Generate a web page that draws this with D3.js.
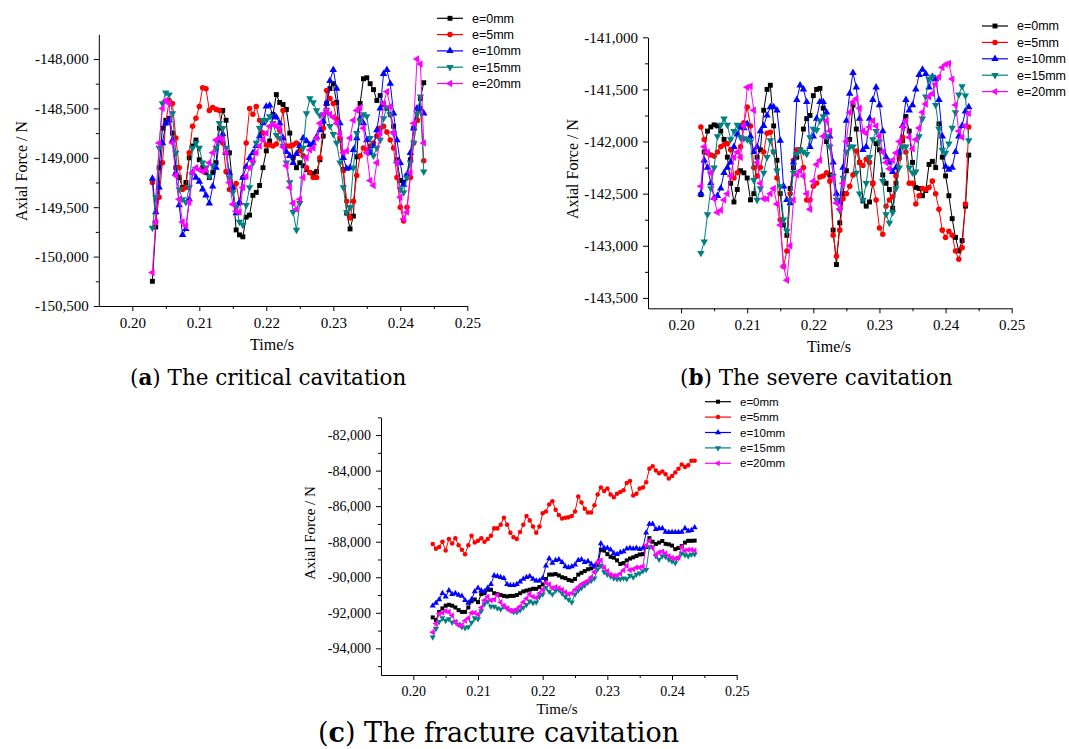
<!DOCTYPE html>
<html>
<head>
<meta charset="utf-8">
<script src="https://cdn.jsdelivr.net/npm/d3@7"></script>
<style>
  body { margin: 0; background: #fff; }
  svg { display: block; }
</style>
</head>
<body>
<svg id="chart" width="1069" height="749"></svg>
<script>
// === Axial force vs time, three cavitation cases ===

// sample times (s), shared by every series
const TIME = [0.2030,0.2035,0.2040,0.2045,0.2050,0.2055,0.2060,0.2065,0.2070,0.2075,
  0.2080,0.2085,0.2090,0.2095,0.2100,0.2105,0.2110,0.2115,0.2120,0.2125,
  0.2130,0.2135,0.2140,0.2145,0.2150,0.2155,0.2160,0.2165,0.2170,0.2175,
  0.2180,0.2185,0.2190,0.2195,0.2200,0.2205,0.2210,0.2215,0.2220,0.2225,
  0.2230,0.2235,0.2240,0.2245,0.2250,0.2255,0.2260,0.2265,0.2270,0.2275,
  0.2280,0.2285,0.2290,0.2295,0.2300,0.2305,0.2310,0.2315,0.2320,0.2325,
  0.2330,0.2335,0.2340,0.2345,0.2350,0.2355,0.2360,0.2365,0.2370,0.2375,
  0.2380,0.2385,0.2390,0.2395,0.2400,0.2405,0.2410,0.2415,0.2420,0.2425,
  0.2430,0.2435];

const SERIES_NAMES = ["e=0mm", "e=5mm", "e=10mm", "e=15mm", "e=20mm"];

// (a) critical cavitation, axial force in N
const A_E0 = [-150250,-149700,-149100,-148700,-148620,-148600,-148750,-149100,-149200,-149300,
  -149250,-149000,-148880,-148820,-149020,-149100,-149150,-149200,-149150,-149050,
  -148700,-148520,-148620,-148950,-149300,-149730,-149780,-149800,-149600,-149580,
  -149380,-149350,-149280,-149100,-148930,-148830,-148560,-148360,-148440,-148460,
  -148510,-148750,-149000,-149100,-149050,-149080,-149120,-149150,-149160,-149140,
  -149020,-148780,-148450,-148300,-148250,-148440,-148820,-149120,-149560,-149720,
  -149590,-148990,-148450,-148200,-148190,-148250,-148310,-148420,-148370,-148460,
  -148500,-148560,-148680,-149020,-149230,-149250,-149180,-149020,-148700,-148620,
  -148400,-148240];
const A_E5 = [-149250,-149650,-149400,-149050,-148650,-148420,-148450,-148800,-149100,-149320,
  -149300,-148950,-148680,-148600,-148480,-148290,-148300,-148520,-148490,-148510,
  -148520,-148850,-149140,-149320,-149300,-149260,-149460,-149200,-148850,-148500,
  -148560,-148480,-148620,-148750,-148870,-148870,-148880,-148860,-148720,-148520,
  -148880,-148880,-148870,-148850,-148930,-148980,-149100,-149150,-149200,-149200,
  -149000,-148700,-148320,-148400,-148450,-148610,-148800,-149130,-149440,-149610,
  -149440,-149180,-148980,-148900,-148920,-148880,-148850,-148780,-148700,-148680,
  -148740,-148820,-148900,-149200,-149500,-149640,-149500,-149200,-148850,-148620,
  -148500,-149030];
const A_E10 = [-149210,-149550,-149300,-148850,-148650,-148620,-148820,-149150,-149480,-149780,
  -149720,-149420,-149150,-149200,-149240,-149320,-149380,-149460,-149290,-149100,
  -148820,-148760,-148950,-149150,-149300,-149560,-149450,-149200,-149090,-149000,
  -148950,-148880,-148780,-148650,-148480,-148470,-148580,-148590,-148650,-148800,
  -148940,-148980,-149050,-148960,-148880,-148800,-148830,-148870,-148850,-148790,
  -148720,-148630,-148450,-148220,-148110,-148300,-148650,-149000,-149110,-149100,
  -148920,-148800,-148600,-148650,-148820,-148950,-148880,-148720,-148500,-148150,
  -148110,-148250,-148550,-148820,-149050,-149270,-149170,-148950,-148700,-148500,
  -148500,-148550];
const A_E15 = [-149710,-149400,-148900,-148450,-148340,-148360,-148550,-148950,-149320,-149420,
  -149450,-149300,-148900,-148850,-148900,-149050,-149100,-149190,-149080,-148900,
  -148650,-148700,-148900,-149200,-149350,-149500,-149650,-149680,-149480,-149300,
  -149050,-148850,-148700,-148620,-148620,-148580,-148650,-148770,-148800,-148880,
  -149050,-149250,-149550,-149730,-149460,-148900,-148550,-148400,-148440,-148520,
  -148570,-148560,-148520,-148680,-148760,-148850,-149050,-149300,-149550,-149500,
  -149100,-148750,-148620,-148560,-148580,-148800,-148980,-148900,-148820,-148600,
  -148490,-148560,-148750,-149050,-149320,-149350,-149200,-149050,-148850,-148550,
  -148380,-149140];
const A_E20 = [-150160,-149650,-148850,-148500,-148420,-148450,-148850,-149180,-149420,-149650,
  -149690,-149450,-149150,-149100,-149120,-149140,-149120,-149050,-148950,-148820,
  -148800,-148820,-148950,-149250,-149470,-149540,-149550,-149300,-149190,-149100,
  -149030,-148950,-148880,-148820,-148750,-148680,-148660,-148680,-148700,-148890,
  -149080,-149300,-149460,-149520,-149420,-149200,-149000,-148920,-148900,-148800,
  -148650,-148560,-148520,-148560,-148590,-148650,-148760,-148950,-148930,-148800,
  -148620,-148520,-148490,-148700,-148950,-149230,-149280,-149050,-148750,-148450,
  -148330,-148480,-148750,-149050,-149400,-149620,-149550,-149150,-148650,-148000,
  -148050,-148850];

// (b) severe cavitation
const B_E0 = [-142510,-142100,-141900,-141860,-141840,-141850,-141900,-141980,-142150,-142400,
  -142580,-142460,-142280,-142300,-142350,-142560,-142500,-142150,-142080,-141700,
  -141500,-141460,-141850,-142180,-142500,-142800,-142900,-142450,-142250,-142150,
  -142080,-141880,-141780,-141750,-141560,-141500,-141490,-141680,-142000,-142320,
  -142850,-143180,-142780,-142500,-142280,-141980,-141650,-141880,-142200,-142570,
  -142620,-142580,-142400,-142020,-142080,-142320,-142400,-142460,-142640,-142400,
  -142130,-141990,-141760,-141900,-142200,-142440,-142450,-142520,-142470,-142220,
  -142190,-142250,-141830,-142150,-142330,-142520,-142740,-142920,-143050,-142950,
  -142620,-142130];
const B_E5 = [-141860,-141980,-142110,-142130,-142140,-142100,-142050,-142030,-142020,-142080,
  -142350,-142300,-142050,-141820,-141670,-141850,-142250,-142330,-142250,-142100,
  -141920,-141910,-142100,-142350,-142750,-143200,-143050,-142500,-142180,-142080,
  -142080,-142250,-142560,-142560,-142430,-142400,-142340,-142330,-142300,-142380,
  -142900,-143100,-142850,-142550,-142500,-142430,-142320,-142090,-142200,-142230,
  -142170,-142200,-142400,-142560,-142830,-142890,-142620,-142560,-142530,-142330,
  -142160,-141960,-142100,-142400,-142400,-142600,-142520,-142450,-142460,-142440,
  -142380,-142500,-142650,-142850,-142920,-142860,-142900,-143050,-143130,-143020,
  -142600,-141860];
const B_E10 = [-142500,-142180,-142250,-142400,-142540,-142520,-142450,-142300,-142250,-142200,
  -142050,-141930,-141860,-141870,-141830,-141950,-142100,-142050,-141900,-141850,
  -141750,-141670,-141670,-141700,-141990,-142430,-142560,-142590,-142200,-141600,
  -141460,-141500,-141620,-142050,-141950,-141780,-141620,-141620,-141720,-141950,
  -142200,-142500,-142580,-142250,-141800,-141540,-141340,-141480,-141780,-142080,
  -142050,-141780,-141600,-141480,-141650,-141900,-142150,-142200,-142290,-142250,
  -142100,-141850,-141600,-141700,-141650,-141500,-141360,-141310,-141350,-141480,
  -141380,-141400,-141600,-141950,-142240,-142270,-142250,-142100,-141950,-141850,
  -141710,-141670];
const B_E15 = [-143070,-142960,-142700,-142450,-142250,-141950,-141840,-141780,-141840,-141980,
  -141900,-141840,-141960,-141970,-141980,-142000,-142370,-142560,-142450,-142300,
  -142150,-141990,-142100,-142280,-142430,-142750,-142860,-142560,-142300,-142120,
  -142080,-142100,-142120,-141960,-141880,-141890,-141800,-141760,-141950,-142050,
  -142330,-142560,-142660,-142350,-142100,-142050,-142050,-142300,-142500,-142560,
  -142400,-142150,-141980,-141900,-142000,-142380,-142700,-142780,-142680,-142450,
  -142250,-142050,-142050,-142250,-142300,-142290,-141950,-141780,-141570,-141400,
  -141380,-141650,-141880,-142080,-142110,-142020,-141870,-141720,-141550,-141470,
  -141560,-141990];
const B_E20 = [-142430,-142050,-142100,-142300,-142550,-142680,-142660,-142560,-142500,-142330,
  -142150,-142100,-142150,-141850,-141480,-141470,-141700,-142200,-142400,-142550,
  -142550,-142500,-142450,-142600,-142800,-143200,-143330,-143000,-142560,-142320,
  -142280,-142330,-142500,-142650,-142380,-142220,-142180,-141950,-141800,-141900,
  -142350,-142590,-142650,-142400,-142000,-141720,-141620,-141590,-141680,-141900,
  -141920,-141860,-141800,-141850,-141950,-142100,-142200,-142260,-142180,-142110,
  -142000,-141860,-141800,-141960,-142070,-141980,-141870,-141720,-141640,-141570,
  -141540,-141450,-141380,-141290,-141260,-141250,-141400,-141650,-141900,-141960,
  -141850,-141730];

// (c) fracture cavitation
const C_E0 = [-92260,-92400,-91950,-91750,-91600,-91550,-91600,-91700,-91850,-91950,
  -91950,-91700,-91350,-91250,-91400,-90950,-90900,-90700,-90700,-90900,
  -90950,-91000,-91050,-91080,-91050,-91050,-91000,-90900,-90800,-90750,
  -90700,-90650,-90650,-90550,-90400,-90100,-89850,-89850,-89820,-89900,
  -90000,-90050,-90150,-90200,-90100,-89850,-89750,-89650,-89550,-89500,
  -89400,-89300,-88450,-88500,-88700,-88850,-88900,-89050,-89250,-89200,
  -89050,-88950,-88880,-88800,-88720,-88700,-88300,-87800,-88000,-88130,
  -88050,-87960,-88120,-88150,-88220,-88420,-88350,-88250,-88050,-87950,
  -87950,-87940];
const C_E5 = [-88130,-88400,-88300,-88000,-88500,-87850,-88100,-87800,-88200,-88450,
  -88700,-88200,-87660,-88050,-87950,-87800,-88000,-87850,-87670,-87250,
  -87250,-87050,-86650,-87050,-87500,-87750,-87850,-87450,-87050,-86550,
  -86800,-87150,-87500,-87150,-86400,-86300,-85900,-85720,-86200,-86500,
  -86700,-86650,-86620,-86550,-86300,-85450,-85800,-86150,-86350,-86350,
  -85950,-85350,-84950,-85150,-85000,-85350,-85500,-85300,-85200,-85100,
  -84700,-84580,-85400,-85300,-85000,-84950,-84650,-83900,-83750,-84000,
  -84150,-84050,-84200,-84450,-84300,-84100,-83900,-83650,-83800,-83700,
  -83450,-83450];
const C_E10 = [-91600,-91450,-91250,-90900,-91100,-90750,-90950,-90900,-91000,-91050,
  -91300,-91450,-91250,-90800,-90600,-90750,-90800,-90600,-90400,-89900,
  -89950,-90000,-90050,-90400,-90450,-90450,-90400,-90250,-90100,-90000,
  -89950,-90100,-90200,-90200,-90050,-89350,-88950,-89200,-89050,-89000,
  -89150,-89400,-89450,-89400,-89300,-89050,-89000,-89150,-89100,-89250,
  -89400,-89150,-88100,-88350,-88350,-88450,-88650,-88700,-88600,-88550,
  -88400,-88350,-88400,-88350,-88420,-88350,-87500,-87000,-87000,-87300,
  -87250,-87250,-87450,-87470,-87470,-87470,-87470,-87450,-87250,-87400,
  -87350,-87200];
const C_E15 = [-93380,-92900,-92500,-92300,-92450,-92350,-92550,-92500,-92650,-92800,
  -92850,-92800,-92550,-92300,-92350,-91900,-91500,-91350,-91650,-91650,
  -91750,-91800,-91650,-91750,-91850,-91950,-91950,-91850,-91700,-91550,
  -91350,-91450,-91400,-91100,-90950,-90580,-90800,-90950,-90750,-90700,
  -90900,-91100,-91250,-91400,-90950,-90750,-90600,-90450,-90300,-90200,
  -90050,-89550,-89350,-89700,-89850,-89950,-90050,-90100,-90100,-90050,
  -90100,-89900,-90000,-89850,-89780,-89650,-89580,-88300,-88300,-88800,
  -89000,-88800,-88850,-89000,-89100,-89200,-88900,-88650,-88750,-88800,
  -88720,-88700];
const C_E20 = [-93100,-92600,-92050,-92000,-91900,-91950,-92150,-92500,-92700,-92700,
  -92450,-92300,-92000,-92000,-92100,-91700,-91300,-91100,-91300,-91250,
  -91000,-91400,-91600,-91750,-91880,-91880,-91800,-91650,-91400,-91200,
  -90950,-91100,-91150,-90900,-90700,-90300,-90400,-90600,-90550,-90600,
  -90700,-90850,-90950,-90900,-90700,-90550,-90400,-90300,-90200,-90000,
  -89700,-89150,-89050,-89450,-89650,-89850,-89900,-89900,-89800,-89600,
  -89350,-89600,-89550,-89450,-89450,-89400,-88200,-87950,-88350,-88750,
  -88600,-88550,-88650,-88800,-88900,-88950,-88900,-88300,-88500,-88450,
  -88450,-88500];

// axis ticks
const X_TICKS = [0.20, 0.21, 0.22, 0.23, 0.24, 0.25];
const X_MINOR = [0.205, 0.215, 0.225, 0.235, 0.245];
const Y_TICKS_A = [-148000, -148500, -149000, -149500, -150000, -150500];
const Y_MINOR_A = [-148250, -148750, -149250, -149750, -150250];
const Y_TICKS_B = [-141000, -141500, -142000, -142500, -143000, -143500];
const Y_MINOR_B = [-141250, -141750, -142250, -142750, -143250];
const Y_TICKS_C = [-82000, -84000, -86000, -88000, -90000, -92000, -94000];
const Y_MINOR_C = [-81000, -83000, -85000, -87000, -89000, -91000, -93000, -95000];

const COLORS = ["#000000", "#ff0000", "#0000ff", "#008080", "#ff00ff"];
// square, circle, up, down, left
const SHAPES = [
  { type: d3.symbolSquare, rot: 0 },
  { type: d3.symbolCircle, rot: 0 },
  { type: d3.symbolTriangle, rot: 0 },
  { type: d3.symbolTriangle, rot: 180 },
  { type: d3.symbolTriangle, rot: -90 }
];

const SERIF = "'Liberation Serif', 'Times New Roman', serif";
const SANS = "'Liberation Sans', Arial, sans-serif";

const svg = d3.select("#chart");

const fmtY = v => d3.format(",")(v).replace("\u2212", "-");

function drawPanel(cfg) {
  const x = d3.scaleLinear().domain([0.195, 0.25]).range([cfg.left, cfg.right]);
  const y = d3.scaleLinear().domain(cfg.yDomain).range([cfg.bottom, cfg.top]);
  const g = svg.append("g");

  // axes
  const gy = g.append("g").attr("transform", `translate(${cfg.left},0)`)
    .call(d3.axisLeft(y).tickValues(cfg.yTicks).tickSize(5).tickSizeOuter(0)
      .tickPadding(5).tickFormat(fmtY));
  g.append("g").attr("transform", `translate(${cfg.left},0)`)
    .call(d3.axisLeft(y).tickValues(cfg.yMinor).tickSize(3).tickFormat(""))
    .select(".domain").remove();
  const gx = g.append("g").attr("transform", `translate(0,${cfg.bottom})`)
    .call(d3.axisBottom(x).tickValues(X_TICKS).tickSize(5).tickSizeOuter(0)
      .tickPadding(6).tickFormat(d3.format(".2f")));
  g.append("g").attr("transform", `translate(0,${cfg.bottom})`)
    .call(d3.axisBottom(x).tickValues(X_MINOR).tickSize(3).tickFormat(""))
    .select(".domain").remove();

  [gx, gy].forEach(a => a.selectAll("text")
    .attr("font-family", SERIF).attr("font-size", cfg.tickFont).attr("fill", "#000"));
  g.selectAll(".domain, .tick line").attr("stroke", "#000").attr("stroke-width", 1);

  // series
  const line = d3.line().x((d, i) => x(TIME[i])).y(d => y(d));
  cfg.series.forEach((vals, k) => {
    g.append("path").datum(vals)
      .attr("d", line).attr("fill", "none")
      .attr("stroke", COLORS[k]).attr("stroke-width", 1);
    const sym = d3.symbol().type(SHAPES[k].type).size(cfg.markSize);
    g.append("g").selectAll("path").data(vals).join("path")
      .attr("d", sym)
      .attr("transform", (d, i) => `translate(${x(TIME[i])},${y(d)}) rotate(${SHAPES[k].rot})`)
      .attr("fill", COLORS[k]);
  });

  // legend
  const lg = g.append("g").attr("transform", `translate(${cfg.legend.x},${cfg.legend.y})`);
  SERIES_NAMES.forEach((name, k) => {
    const row = lg.append("g").attr("transform", `translate(0,${k * cfg.legend.dy})`);
    row.append("line").attr("x1", 0).attr("x2", cfg.legend.len).attr("y1", 0).attr("y2", 0)
      .attr("stroke", COLORS[k]).attr("stroke-width", 1.2);
    row.append("path")
      .attr("d", d3.symbol().type(SHAPES[k].type).size(cfg.markSize)())
      .attr("transform", `translate(${cfg.legend.len / 2},0) rotate(${SHAPES[k].rot})`)
      .attr("fill", COLORS[k]);
    row.append("text").attr("x", cfg.legend.len + 9).attr("dy", "0.35em")
      .attr("font-family", SANS).attr("font-size", cfg.legend.font)
      .text(name);
  });

  // axis titles
  g.append("text")
    .attr("transform", `translate(${cfg.yLabel[0]},${cfg.yLabel[1]}) rotate(-90)`)
    .attr("text-anchor", "middle").attr("dy", "0.35em")
    .attr("font-family", SERIF).attr("font-size", cfg.titleFont)
    .text("Axial Force / N");
  g.append("text")
    .attr("x", cfg.xLabel[0]).attr("y", cfg.xLabel[1])
    .attr("text-anchor", "middle")
    .attr("font-family", SERIF).attr("font-size", cfg.titleFont)
    .text("Time/s");

  // caption
  const cap = g.append("text")
    .attr("x", cfg.caption.x).attr("y", cfg.caption.y)
    .attr("font-family", "'DejaVu Serif', serif").attr("font-size", cfg.caption.font);
  cap.append("tspan").text("(");
  cap.append("tspan").attr("font-weight", "bold").text(cfg.caption.letter);
  cap.append("tspan").text(") " + cfg.caption.text);
}

drawPanel({
  left: 98.8, right: 467.3, top: 34.3, bottom: 306,
  yDomain: [-150500, -147750], yTicks: Y_TICKS_A, yMinor: Y_MINOR_A,
  series: [A_E0, A_E5, A_E10, A_E15, A_E20],
  tickFont: 15, titleFont: 16, markSize: 24,
  legend: { x: 437, y: 18.3, dy: 16.3, len: 26, font: 12.5 },
  yLabel: [21, 171], xLabel: [272, 350],
  caption: { x: 130, y: 385, font: 21.5, letter: "a", text: "The critical cavitation" }
});

drawPanel({
  left: 648, right: 1011.7, top: 37.3, bottom: 308.3,
  yDomain: [-143600, -141000], yTicks: Y_TICKS_B, yMinor: Y_MINOR_B,
  series: [B_E0, B_E5, B_E10, B_E15, B_E20],
  tickFont: 15, titleFont: 16, markSize: 24,
  legend: { x: 982, y: 26, dy: 16.4, len: 26, font: 12.5 },
  yLabel: [572, 169], xLabel: [829, 352],
  caption: { x: 680, y: 385, font: 21.5, letter: "b", text: "The severe cavitation" }
});

drawPanel({
  left: 381, right: 736.7, top: 417.3, bottom: 675,
  yDomain: [-95500, -81000], yTicks: Y_TICKS_C, yMinor: Y_MINOR_C,
  series: [C_E0, C_E5, C_E10, C_E15, C_E20],
  tickFont: 14, titleFont: 15, markSize: 16,
  legend: { x: 705, y: 401.7, dy: 15.4, len: 26, font: 11.5 },
  yLabel: [310, 533], xLabel: [557, 714],
  caption: { x: 318, y: 742, font: 27, letter: "c", text: "The fracture cavitation" }
});
</script>
</body>
</html>
